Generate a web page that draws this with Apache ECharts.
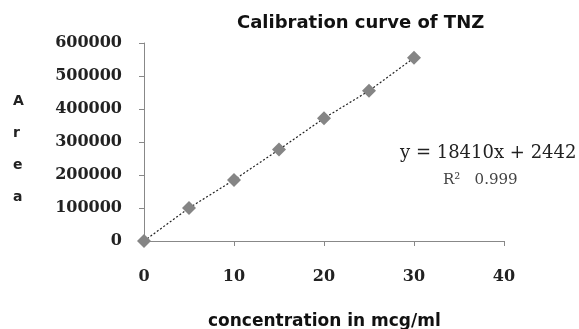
<!DOCTYPE html>
<html><head><meta charset="utf-8">
<script src="https://cdn.jsdelivr.net/npm/echarts@6/dist/echarts.min.js"></script>
<style>html,body{margin:0;padding:0;background:#fff}#c{width:579px;height:329px}</style>
</head><body><div id="c"></div>
<script>
const concentrations = [0, 5, 10, 15, 20, 25, 30];
const areas = [0, 100000, 185000, 277000, 372000, 455000, 555000];
const xTicks = [0, 10, 20, 30, 40];
const yTicks = [0, 100000, 200000, 300000, 400000, 500000, 600000];
const title = 'Calibration curve of TNZ';
const xName = 'concentration in mcg/ml';
const yName = 'A\nr\ne\na';
const eqText = 'y = 18410x + 2442';
const r2Text = 'R\u00b2   0.999';

const pts = concentrations.map((c, i) => [c, areas[i]]);
const chart = echarts.init(document.getElementById('c'));
chart.setOption({
  animation: false,
  grid: { left: 144, right: 75, top: 43, bottom: 88 },
  xAxis: { type: 'value', min: xTicks[0], max: xTicks[xTicks.length - 1], interval: xTicks[1] - xTicks[0],
    axisLine: { lineStyle: { color: '#888' } },
    axisTick: { show: true, length: 5, lineStyle: { color: '#888' } },
    splitLine: { show: false },
    axisLabel: { margin: 28, fontFamily: 'DejaVu Serif', fontWeight: 'bold', fontSize: 16, color: '#222' } },
  yAxis: { type: 'value', min: yTicks[0], max: yTicks[yTicks.length - 1], interval: yTicks[1] - yTicks[0],
    axisLine: { show: true, lineStyle: { color: '#888' } },
    axisTick: { show: true, length: 5, lineStyle: { color: '#888' } },
    splitLine: { show: false },
    axisLabel: { margin: 22, formatter: v => String(v), fontFamily: 'DejaVu Serif', fontWeight: 'bold', fontSize: 16, color: '#222' } },
  graphic: [
    { type: 'text', x: 237, y: 23, style: { text: title, textAlign: 'left', textVerticalAlign: 'middle', fontFamily: 'DejaVu Sans', fontWeight: 'bold', fontSize: 18, fill: '#111' } },
    { type: 'text', x: 13, y: 85, style: { text: yName, textVerticalAlign: 'top', fontFamily: 'DejaVu Sans', fontWeight: 'bold', fontSize: 14, lineHeight: 32, fill: '#222' } },
    { type: 'text', x: 208, y: 322, style: { text: xName, textAlign: 'left', textVerticalAlign: 'middle', fontFamily: 'DejaVu Sans', fontWeight: 'bold', fontSize: 17, fill: '#111' } },
    { type: 'text', x: 400, y: 153, style: { text: eqText, textAlign: 'left', textVerticalAlign: 'middle', fontFamily: 'DejaVu Serif', fontSize: 18, fill: '#222' } },
    { type: 'text', x: 443, y: 180, style: { text: r2Text, textAlign: 'left', textVerticalAlign: 'middle', fontFamily: 'DejaVu Serif', fontSize: 15, fill: '#444' } }
  ],
  series: [
    { type: 'line', data: pts, symbol: 'diamond', symbolSize: 14,
      itemStyle: { color: '#858585' },
      lineStyle: { color: '#222', width: 1.2, type: [2, 2] } }
  ]
});
</script></body></html>
